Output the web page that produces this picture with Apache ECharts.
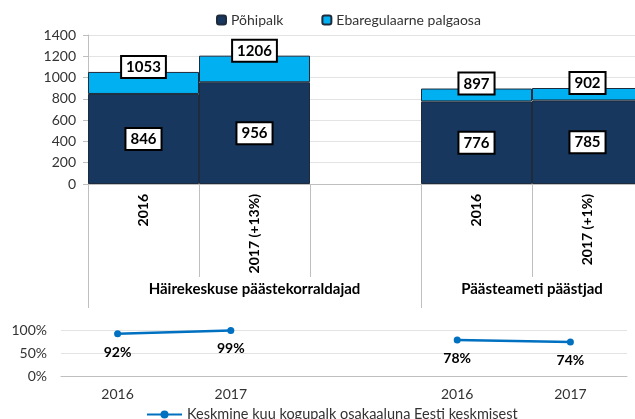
<!DOCTYPE html>
<html><head><meta charset="utf-8">
<script src="https://cdn.jsdelivr.net/npm/echarts@6/dist/echarts.min.js"></script>
<style>html,body{margin:0;padding:0;background:#fff}#c{width:635px;height:419px}</style>
</head><body><div id="c"></div>
<script>
// ---- data ----
const categories = ['2016', '2017 (+13%)', '', '2016', '2017 (+1%)'];
const groupLabels = ['Häirekeskuse päästekorraldajad', 'Päästeameti päästjad'];
const basePay = [846, 956, null, 776, 785];
const totalPay = [1053, 1206, null, 897, 902];
const yTicksTop = [0, 200, 400, 600, 800, 1000, 1200, 1400];
const shareYears = ['2016', '2017', '', '2016', '2017'];
const shareValues = [92, 99, null, 78, 74];
const seriesNames = ['Põhipalk', 'Ebaregulaarne palgaosa', 'Keskmine kuu kogupalk osakaaluna Eesti keskmisest'];

// derived
const irregularPay = totalPay.map((t, i) => (t == null || basePay[i] == null) ? null : t - basePay[i]);
const groupAxisData = new Array(11).fill('');
groupAxisData[3] = groupLabels[0];
groupAxisData[8] = groupLabels[1];

const FONT = 'Lato, "Open Sans", sans-serif';
const boxLabel = {
  show: true, color: '#000', fontWeight: 'bold', fontSize: 15, fontFamily: FONT,
  backgroundColor: '#fff', borderColor: '#000', borderWidth: 2, padding: [3, 4, 2, 4]
};

const chart = echarts.init(document.getElementById('c'), null, {renderer: 'canvas'});
chart.setOption({
  animation: false,
  textStyle: {fontFamily: FONT},
  legend: [{
    data: [seriesNames[0], seriesNames[1]],
    top: 8, left: 211, itemWidth: 9, itemHeight: 9, itemGap: 38,
    textStyle: {fontSize: 14, color: '#333', fontFamily: FONT}
  }, {
    data: [seriesNames[2]],
    top: 402, left: 141, itemWidth: 35, itemHeight: 10, 
    textStyle: {fontSize: 14.5, color: '#333', fontFamily: FONT}
  }],
  grid: [
    {left: 88, right: -8, top: 35, bottom: 235, containLabel: false, outerBoundsMode: 'none'},
    {left: 61, right: 8, top: 330, bottom: 43, containLabel: false, outerBoundsMode: 'none'}
  ],
  xAxis: [{
    gridIndex: 0, type: 'category', data: categories, position: 'bottom',
    axisLine: {lineStyle: {color: '#bfbfbf'}},
    axisTick: {show: true, length: 93, lineStyle: {color: '#bfbfbf'}},
    axisLabel: {rotate: 90, interval: 0, margin: 10, fontWeight: 'bold', fontSize: 14, color: '#000', fontFamily: FONT}
  }, {
    gridIndex: 0, type: 'category', data: groupAxisData, boundaryGap: false, position: 'bottom', offset: 0,
    axisLine: {show: false},
    axisTick: {show: true, length: 124, interval: (i) => i === 0 || i === 6, lineStyle: {color: '#bfbfbf'}},
    axisLabel: {interval: 0, margin: 98, fontWeight: 'bold', fontSize: 15, color: '#000', fontFamily: FONT}
  }, {
    gridIndex: 1, type: 'category', data: shareYears, position: 'bottom',
    axisLine: {lineStyle: {color: '#bfbfbf'}},
    axisTick: {show: false},
    axisLabel: {interval: 0, margin: 11, fontSize: 14, color: '#333', fontFamily: FONT}
  }],
  yAxis: [{
    gridIndex: 0, type: 'value', min: yTicksTop[0], max: yTicksTop[yTicksTop.length - 1], interval: 200,
    axisLine: {show: true, lineStyle: {color: '#bfbfbf'}},
    axisTick: {show: true, length: 5, lineStyle: {color: '#bfbfbf'}},
    splitLine: {lineStyle: {color: '#e3e3e3'}},
    axisLabel: {fontSize: 14, color: '#333', margin: 12, fontFamily: FONT, formatter: (v) => String(v)}
  }, {
    gridIndex: 1, type: 'value', min: 0, max: 100, interval: 50,
    axisLine: {show: false}, axisTick: {show: false},
    splitLine: {lineStyle: {color: '#e3e3e3'}},
    axisLabel: {formatter: (v) => v + '%', fontSize: 14, color: '#333', margin: 14, fontFamily: FONT}
  }],
  series: [{
    name: seriesNames[0], type: 'bar', stack: 'pay', xAxisIndex: 0, yAxisIndex: 0,
    data: basePay, barCategoryGap: '0%',
    itemStyle: {color: '#17375e', borderColor: '#1d2b3c', borderWidth: 1},
    label: Object.assign({position: 'inside'}, boxLabel)
  }, {
    name: seriesNames[1], type: 'bar', stack: 'pay', xAxisIndex: 0, yAxisIndex: 0,
    data: irregularPay, barCategoryGap: '0%',
    itemStyle: {color: '#00b0f0', borderColor: '#1d2b3c', borderWidth: 1},
    label: Object.assign({position: 'top', distance: -5, formatter: (p) => String(totalPay[p.dataIndex])}, boxLabel)
  }, {
    name: seriesNames[2], type: 'line', xAxisIndex: 2, yAxisIndex: 1,
    data: shareValues, connectNulls: false,
    symbol: 'circle', symbolSize: 7,
    lineStyle: {color: '#0070c0', width: 2.5},
    itemStyle: {color: '#0070c0'},
    label: {show: true, position: 'bottom', distance: 8, formatter: (p) => p.value + '%', fontWeight: 'bold', fontSize: 14, color: '#000', fontFamily: FONT}
  }]
});
</script>
</body></html>
